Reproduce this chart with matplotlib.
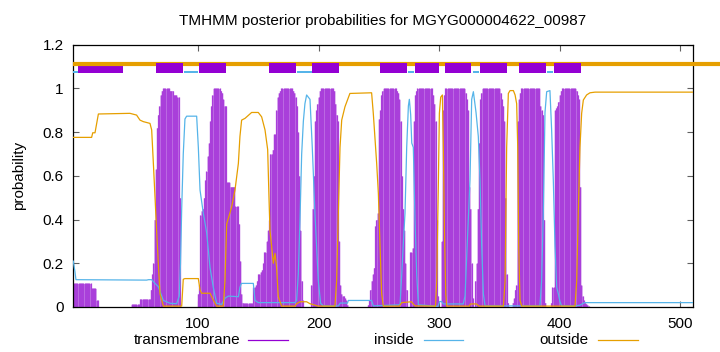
import numpy as np
import matplotlib
matplotlib.use('Agg')
import matplotlib.pyplot as plt
from matplotlib.lines import Line2D

plt.rcParams['font.family'] = ['Liberation Sans', 'DejaVu Sans']
plt.rcParams['font.size'] = 11

title = 'TMHMM posterior probabilities for MGYG000004622_00987'
x_min, x_max = -3.4, 510.3
first_res = -3

# transmembrane posterior, one value per residue starting at first_res
tm_prob = ([0.108] * 15 + [0.085] * 4 + [0.03] * 2
           + [0.0] * 27
           + [0.012] * 7 + [0.036] * 9
           + [0.08, 0.15, 0.2, 0.4, 0.63, 0.82, 0.88, 0.92, 0.97, 0.99]
           + [1.0] * 6 + [0.99] * 3 + [0.97] * 3 + [0.96] * 2 + [0.5]
           + [0.0] * 14
           + [0.06, 0.1, 0.42, 0.44, 0.45, 0.5, 0.58, 0.62, 0.69, 0.75, 0.85, 0.92, 0.97]
           + [1.0] * 6
           + [0.99, 0.98, 0.95, 0.92, 0.92]
           + [0.57] * 3 + [0.55] * 4 + [0.46] * 3
           + [0.38, 0.21, 0.06, 0.02]
           + [0.017] * 8
           + [0.09, 0.09, 0.1, 0.12, 0.15, 0.15, 0.16, 0.17, 0.2, 0.25, 0.25, 0.3,
              0.35, 0.4, 0.7, 0.7, 0.72, 0.79, 0.79, 0.9, 0.96, 0.98, 0.99]
           + [1.0] * 10
           + [0.99, 0.98, 0.96, 0.92, 0.8, 0.6, 0.35, 0.12, 0.03]
           + [0.0] * 6
           + [0.1, 0.45, 0.6, 0.85, 0.9, 0.93, 0.96, 0.99]
           + [1.0] * 11
           + [0.99, 0.93, 0.88, 0.85, 0.3, 0.1, 0.06, 0.05, 0.05, 0.04, 0.03, 0.01]
           + [0.0] * 16
           + [0.01, 0.03, 0.08, 0.12, 0.15, 0.18, 0.37, 0.4, 0.43, 0.86, 0.9, 0.97, 0.99]
           + [1.0] * 11
           + [0.99, 0.98, 0.95, 0.85, 0.6, 0.45, 0.35, 0.2, 0.08, 0.0, 0.0, 0.25,
              0.25, 0.27, 0.85, 0.97, 0.99]
           + [1.0] * 13
           + [0.97, 0.93, 0.85, 0.4, 0.05, 0.0, 0.0, 0.3, 0.9, 0.97]
           + [1.0] * 17
           + [0.98, 0.95, 0.9, 0.55, 0.45, 0.2, 0.04, 0.0, 0.12, 0.2, 0.45, 0.75, 0.95, 0.98]
           + [1.0] * 15
           + [0.98, 0.95, 0.92, 0.85, 0.5, 0.15, 0.02, 0.0, 0.0, 0.0, 0.02, 0.04,
              0.08, 0.1, 0.85, 0.95, 0.98]
           + [1.0] * 16
           + [0.92, 0.9, 0.88, 0.4, 0.02, 0.0, 0.0, 0.0, 0.0, 0.02, 0.09, 0.09,
              0.9, 0.91, 0.92, 0.94, 0.97, 0.99]
           + [1.0] * 12
           + [0.99, 0.97, 0.95, 0.55, 0.1, 0.05, 0.03, 0.02, 0.015, 0.01, 0.005])

inside_x = [-3.4, -2, -1.2, 57.4, 59, 61.6, 64, 67.1, 71.3, 76.8,
            82.3, 84.5, 85.5, 86.5, 87.8, 89.2, 90.6, 98.9, 100.3, 101.7,
            104.4, 107.2, 110, 112.7, 115.5, 119.6, 122.4, 125.2, 133.5, 134.8,
            136, 145.9, 147.3, 150, 180.5, 181.8, 183.2, 184.6, 186, 187.4,
            188.7, 190.1, 191.5, 192.9, 194.8, 197, 199.8, 201.7, 204, 216.4,
            218, 224, 224.7, 244, 245.4, 267.6, 269, 270.4, 271.7, 273.1,
            274.5, 275.3, 276.4, 277.3, 278.6, 280, 281.4, 282.8, 299, 300.5,
            302, 303.5, 320, 321.5, 323.4, 325.6, 327, 328.4, 330.6, 332.5,
            333.9, 335.3, 336.7, 338.1, 383.6, 385, 386.4, 387.8, 389.2, 391.9,
            393.3, 394.7, 396.1, 397.5, 398.9, 400.2, 401.6, 412.7, 416.8, 419.6,
            421, 510.3]
inside_p = [0.21, 0.16, 0.125, 0.123, 0.125, 0.125, 0.11, 0.093, 0.03, 0.017,
            0.015, 0.05, 0.2, 0.45, 0.7, 0.86, 0.873, 0.873, 0.73, 0.535,
            0.43, 0.34, 0.18, 0.09, 0.017, 0.012, 0.04, 0.05, 0.047, 0.09,
            0.108, 0.108, 0.03, 0.02, 0.02, 0.03, 0.15, 0.4, 0.7, 0.85,
            0.93, 0.97, 0.96, 0.95, 0.73, 0.43, 0.12, 0.017, 0.005, 0.005,
            0.018, 0.018, 0.03, 0.03, 0.005, 0.01, 0.15, 0.3, 0.43, 0.73,
            0.92, 0.95, 0.88, 0.75, 0.73, 0.4, 0.15, 0.01, 0.003, 0.025,
            0.025, 0.014, 0.014, 0.05, 0.3, 0.58, 0.95, 0.985, 0.89, 0.78,
            0.58, 0.28, 0.06, 0.005, 0.005, 0.12, 0.43, 0.89, 0.985, 0.99,
            0.81, 0.58, 0.28, 0.09, 0.06, 0.025, 0.005, 0.005, 0.008, 0.017,
            0.02, 0.02]

outside_x = [-3.4, 11.8, 12.7, 14.6, 17.4, 43.6, 49.1, 51.9, 54.7, 60.2,
             61.6, 63, 64.4, 65.7, 67.1, 68.5, 71.3, 86.5, 87.8, 89.2,
             100.3, 101.7, 103, 110, 111.4, 112.7, 115.5, 121, 122.4, 123.8,
             126.5, 128, 130.7, 133.5, 134.8, 136.2, 139, 144.5, 150, 152.8,
             155.6, 157.8, 158.9, 159.7, 161.1, 162.5, 163.9, 165.2, 166.6, 169.4,
             180.5, 181.8, 184.6, 190.1, 192.9, 194.8, 199.8, 213.6, 215, 216.4,
             217.8, 219.2, 221.9, 226, 244, 245.4, 248.2, 249.6, 251, 252.3,
             253.7, 267, 269, 277, 280, 297, 298, 299.4, 300.2, 301.3,
             302.7, 303.5, 304.4, 305.5, 306.3, 325, 326, 331, 333, 353.3,
             354.7, 356, 357.4, 358.8, 361.6, 363, 364.3, 365.2, 366, 367.1,
             368.5, 412.7, 414.1, 415.4, 416.8, 418.2, 419.6, 422.3, 425.1, 429.3,
             510.3]
outside_p = [0.776, 0.776, 0.797, 0.797, 0.883, 0.886, 0.878, 0.855, 0.848, 0.84,
             0.81, 0.657, 0.5, 0.35, 0.2, 0.06, 0.004, 0.004, 0.127, 0.13,
             0.13, 0.078, 0.063, 0.063, 0.047, 0.032, 0.004, 0.004, 0.12, 0.38,
             0.43, 0.46, 0.535, 0.657, 0.78, 0.855, 0.863, 0.89, 0.89, 0.87,
             0.81, 0.72, 0.5, 0.35, 0.276, 0.2, 0.245, 0.18, 0.047, 0.004,
             0.004, 0.015, 0.024, 0.024, 0.015, 0.012, 0.004, 0.004, 0.12, 0.43,
             0.73, 0.855, 0.916, 0.977, 0.98, 0.886, 0.657, 0.52, 0.276, 0.063,
             0.004, 0.004, 0.02, 0.024, 0.005, 0.004, 0.12, 0.58, 0.886, 0.96,
             0.97, 0.73, 0.35, 0.06, 0.004, 0.004, 0.014, 0.014, 0.004, 0.004,
             0.12, 0.73, 0.977, 0.99, 0.99, 0.97, 0.93, 0.73, 0.276, 0.03,
             0.004, 0.004, 0.12, 0.43, 0.73, 0.886, 0.947, 0.97, 0.98, 0.983,
             0.983]

# predicted topology (residue ranges)
tm_start = [0.7, 65.4, 100.6, 158.9, 194.6, 251.0, 280.2, 304.6, 333.9, 366.0, 395.2]
tm_end = [38.1, 87.8, 123.0, 181.3, 217.0, 273.4, 299.6, 326.7, 356.0, 388.4, 417.6]
in_start = [-3.4, 88.4, 182.1, 273.9, 327.8, 389.2]
in_end = [0.7, 100.2, 194.3, 279.4, 333.3, 394.7]

c_tm = '#9400D3'
c_in = '#56B4E9'
c_out = '#E69F00'

fig = plt.figure(figsize=(7.2, 3.52), dpi=100)
ax = fig.add_axes([73.3 / 720, 45 / 352, 619.4 / 720, 262.3 / 352])

pos = first_res + np.arange(len(tm_prob))
tm = np.array(tm_prob)
# light fill behind the impulses so the gaps show as pale stripes, not white
ax.fill_between(pos, 0, tm, step='mid', color='#c276e6', lw=0, zorder=1)
ax.vlines(pos, 0, tm, color='#a93fda', lw=0.9, zorder=2)

ax.plot(inside_x, inside_p, color=c_in, lw=0.9, zorder=3)
ax.plot(outside_x, outside_p, color=c_out, lw=0.9, zorder=3)

# topology bars on top
ax.plot([x_min, 533], [1.112, 1.112], color=c_out, lw=3.0, clip_on=False,
        solid_capstyle='butt', zorder=4)
for s, e in zip(in_start, in_end):
    ax.fill_between([s, e], 1.069, 1.081, color=c_in, lw=0, zorder=4)
for i, (s, e) in enumerate(zip(tm_start, tm_end)):
    top = 1.104 if i == 0 else 1.115
    ax.fill_between([s, e], 1.069, top, color=c_tm, lw=0, zorder=5 if i else 3.5)

ax.set_xlim(x_min, x_max)
ax.set_ylim(0, 1.2)
ax.set_xticks([100, 200, 300, 400, 500])
ax.set_yticks([0, 0.2, 0.4, 0.6, 0.8, 1.0, 1.2])
ax.set_yticklabels(['0', '0.2', '0.4', '0.6', '0.8', '1', '1.2'])
ax.tick_params(direction='in', length=4, width=0.8, color='#606060',
               top=True, right=True, labelsize=11)
ax.tick_params(axis='x', pad=7)
ax.tick_params(axis='y', pad=7)
for sp in ax.spines.values():
    sp.set_linewidth(0.9)
ax.set_ylabel('probability', fontsize=11, labelpad=12)
ax.set_title(title, fontsize=11, pad=14)

# gnuplot-style key below the plot
key_y = 1 - 340 / 352
key = [('transmembrane', 240, 248, 288, c_tm),
       ('inside', 414, 424, 463, c_in),
       ('outside', 589, 598, 638, c_out)]
for lab, tx, l0, l1, col in key:
    fig.text(tx / 720, key_y, lab, ha='right', va='center', fontsize=11)
    fig.add_artist(Line2D([l0 / 720, l1 / 720], [key_y, key_y], color=col, lw=0.9))

fig.savefig('out.png', dpi=100)
